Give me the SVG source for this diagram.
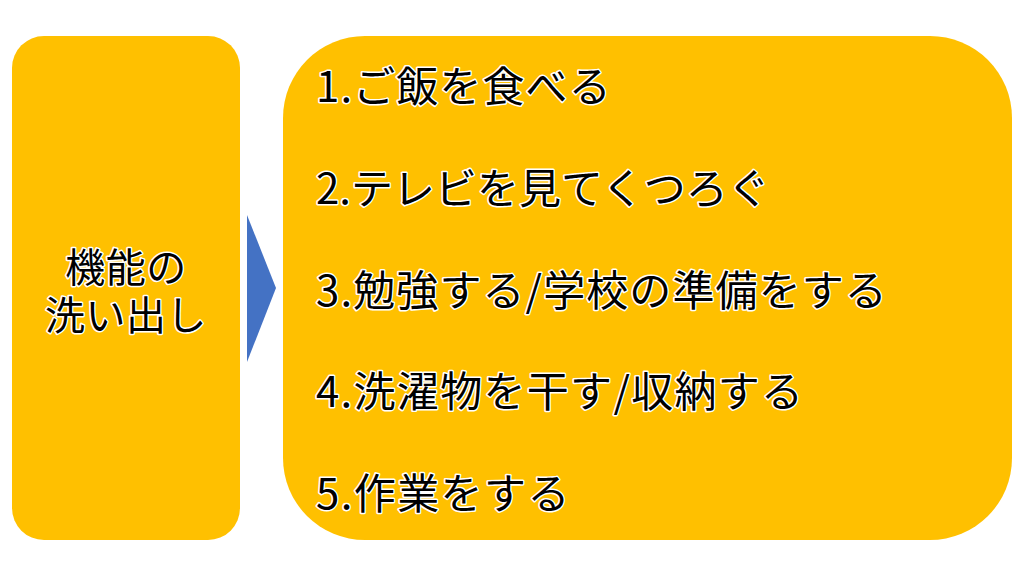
<svg xmlns="http://www.w3.org/2000/svg" width="1024" height="576" viewBox="0 0 1024 576">
  <style>
    .box { fill: #FFC000; }
    .t { font-family: "Noto Sans CJK JP", "Noto Sans", sans-serif; fill: #000; stroke: #FFFFFF; stroke-width: 3; stroke-linejoin: round; paint-order: stroke; }
    .item { font-size: 42px; letter-spacing: 1.1px; }
    .lbl { font-size: 40px; text-anchor: middle; letter-spacing: 0.5px; }
  </style>
  <rect width="1024" height="576" fill="#FFFFFF"/>
  <g id="node-function">
    <rect class="box" x="12" y="36" width="228" height="504" rx="32" ry="32"/>
    <text class="t lbl"><tspan x="126" y="282">機能の</tspan><tspan x="126" y="330">洗い出し</tspan></text>
  </g>
  <g id="connectors">
    <polygon points="247,215 276,288 247,362" fill="#4472C4"/>
  </g>
  <g id="node-list">
    <rect class="box" x="283" y="36" width="729" height="504" rx="82" ry="82"/>
    <text class="t item" x="316" y="102">1.ご飯を食べる</text>
    <text class="t item" x="316" y="204" style="letter-spacing:0">2.テレビを見てくつろぐ</text>
    <text class="t item" x="316" y="306">3.勉強する/学校の準備をする</text>
    <text class="t item" x="316" y="407" style="letter-spacing:1.3px">4.洗濯物を干す/収納する</text>
    <text class="t item" x="316" y="509" style="letter-spacing:1.4px">5.作業をする</text>
  </g>
</svg>
